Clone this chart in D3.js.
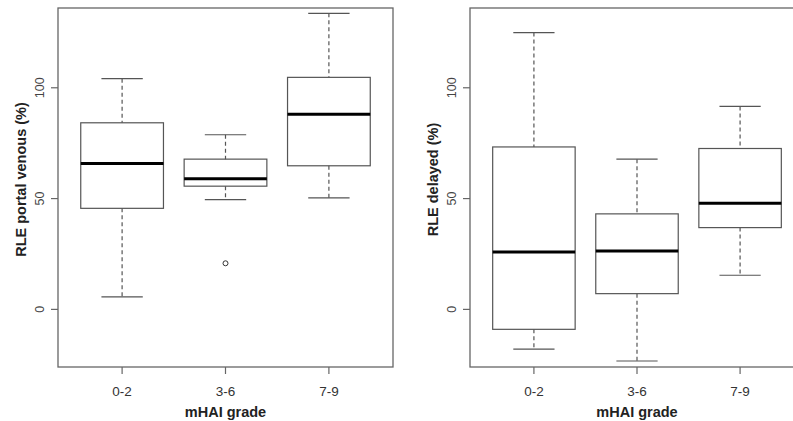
<!DOCTYPE html>
<html><head><meta charset="utf-8">
<script src="https://cdn.jsdelivr.net/npm/d3@7"></script>
<style>body{margin:0;background:#fff}svg{display:block}</style>
</head><body>
<script>
const categories = ["0-2", "3-6", "7-9"];
const yTicks = [0, 50, 100];
// [lowerWhisker, Q1, median, Q3, upperWhisker]
const portalVenous = [
  [5.6, 45.6, 65.8, 84.2, 104.1],
  [49.5, 55.6, 59.0, 67.8, 78.8],
  [50.3, 64.8, 88.0, 104.7, 133.6]
];
const portalOutliers = [[], [20.8], []];
const delayed = [
  [-17.9, -9.0, 25.9, 73.3, 124.9],
  [-23.3, 7.1, 26.4, 43.1, 67.8],
  [15.4, 36.9, 47.9, 72.6, 91.6]
];
const delayedOutliers = [[], [], []];
const yLabels = ["RLE portal venous (%)", "RLE delayed (%)"];
const xLabel = "mHAI grade";
const yLim = [-20, 130];

const W = 793, H = 421;
const svg = d3.select("body").append("svg").attr("width", W).attr("height", H);
const font = "Liberation Sans, Arial, sans-serif";

function panel(x0, x1, stats, outliers, ylabel) {
  const top = 8, bottom = 367;
  const pad = (yLim[1] - yLim[0]) * 0.04;
  const y = d3.scaleLinear().domain([yLim[0] - pad, yLim[1] + pad]).range([bottom, top]);
  const xpad = 3 * 0.04;
  const x = d3.scaleLinear().domain([0.5 - xpad, 3.5 + xpad]).range([x0, x1]);
  const g = svg.append("g");
  const axisCol = "#666", boxCol = "#555";
  g.append("rect").attr("x", x0).attr("y", top).attr("width", x1 - x0).attr("height", bottom - top)
    .attr("fill", "none").attr("stroke", axisCol).attr("stroke-width", 1.3);
  yTicks.forEach(t => {
    g.append("line").attr("x1", x0 - 7).attr("x2", x0).attr("y1", y(t)).attr("y2", y(t))
      .attr("stroke", axisCol).attr("stroke-width", 1.2);
    g.append("text").attr("transform", `translate(${x0 - 18},${y(t)}) rotate(-90)`)
      .attr("text-anchor", "middle").attr("dy", "0.35em")
      .attr("font-family", font).attr("font-size", 12.5).attr("fill", "#444").text(t);
  });
  categories.forEach((c, i) => {
    const cx = x(i + 1);
    g.append("line").attr("x1", cx).attr("x2", cx).attr("y1", bottom).attr("y2", bottom + 7)
      .attr("stroke", axisCol).attr("stroke-width", 1.2);
    g.append("text").attr("x", cx).attr("y", 391).attr("dy", "0.35em").attr("text-anchor", "middle")
      .attr("font-family", font).attr("font-size", 13.5).attr("fill", "#333").text(c);
  });
  g.append("text").attr("x", (x(1) + x(3)) / 2).attr("y", 412).attr("dy", "0.35em").attr("text-anchor", "middle")
    .attr("font-family", font).attr("font-size", 14.5).attr("font-weight", "bold").attr("fill", "#222").text(xLabel);
  g.append("text").attr("transform", `translate(${x0 - 37},${(top + bottom) / 2 - 8}) rotate(-90)`)
    .attr("text-anchor", "middle").attr("dy", "0.35em")
    .attr("font-family", font).attr("font-size", 14.5).attr("font-weight", "bold").attr("fill", "#222").text(ylabel);
  stats.forEach((s, i) => {
    const cx = x(i + 1);
    const hw = (x(1.4) - x(1)), sw = (x(1.2) - x(1));
    const [lo, q1, med, q3, hi] = s;
    g.append("line").attr("x1", cx).attr("x2", cx).attr("y1", y(hi)).attr("y2", y(q3))
      .attr("stroke", boxCol).attr("stroke-width", 1.2).attr("stroke-dasharray", "4,3");
    g.append("line").attr("x1", cx).attr("x2", cx).attr("y1", y(q1)).attr("y2", y(lo))
      .attr("stroke", boxCol).attr("stroke-width", 1.2).attr("stroke-dasharray", "4,3");
    [lo, hi].forEach(v => g.append("line").attr("x1", cx - sw).attr("x2", cx + sw).attr("y1", y(v)).attr("y2", y(v))
      .attr("stroke", boxCol).attr("stroke-width", 1.2));
    g.append("rect").attr("x", cx - hw).attr("width", 2 * hw).attr("y", y(q3)).attr("height", y(q1) - y(q3))
      .attr("fill", "none").attr("stroke", boxCol).attr("stroke-width", 1.2);
    g.append("line").attr("x1", cx - hw).attr("x2", cx + hw).attr("y1", y(med)).attr("y2", y(med))
      .attr("stroke", "#000").attr("stroke-width", 3);
    outliers[i].forEach(v => g.append("circle").attr("cx", cx).attr("cy", y(v)).attr("r", 2.5)
      .attr("fill", "none").attr("stroke", "#333").attr("stroke-width", 1));
  });
}
panel(58, 393, portalVenous, portalOutliers, yLabels[0]);
panel(470, 804, delayed, delayedOutliers, yLabels[1]);
</script>
</body></html>
